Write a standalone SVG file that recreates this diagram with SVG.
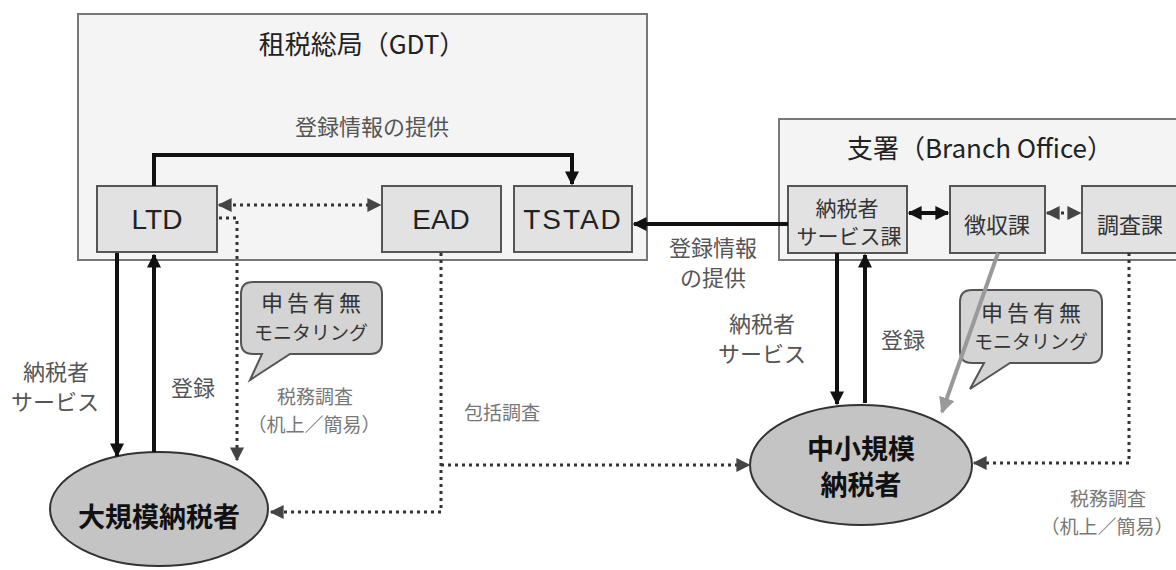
<svg xmlns="http://www.w3.org/2000/svg" width="1176" height="570" viewBox="0 0 1176 570">
<defs>
<style>
.t{font-family:"Noto Sans CJK JP","Liberation Sans",sans-serif;}
.title{font-size:26px;fill:#222;text-anchor:middle;}
.box{fill:#e2e2e2;stroke:#555;stroke-width:2;}
.big{fill:#f4f4f4;stroke:#777;stroke-width:2;}
.nl{font-family:"Liberation Sans",Arial,sans-serif;font-size:28px;fill:#222;text-anchor:middle;}
.ns{font-size:21px;fill:#333;text-anchor:middle;}
.lbl{font-size:22px;fill:#555;text-anchor:middle;}
.lbl2{font-size:19px;fill:#777;text-anchor:middle;}
.solid{fill:none;stroke:#111;stroke-width:4;}
.dot{fill:none;stroke:#333;stroke-width:3;stroke-dasharray:3 4;}
.ell{fill:#c4c4c4;stroke:#333;stroke-width:2;}
.bub{fill:#d4d4d4;stroke:#555;stroke-width:2;}
.bt1{font-size:22px;fill:#333;letter-spacing:4px;}
.bt2{font-size:19px;fill:#333;}
.el{font-size:27px;fill:#111;text-anchor:middle;font-weight:bold;}
</style>
<marker id="ah" viewBox="0 0 10 10" refX="9" refY="5" markerWidth="14" markerHeight="14" markerUnits="userSpaceOnUse" orient="auto-start-reverse"><path d="M0,0 L10,5 L0,10 z" fill="#111"/></marker>
<marker id="ad" viewBox="0 0 10 10" refX="9" refY="5" markerWidth="14" markerHeight="14" markerUnits="userSpaceOnUse" orient="auto-start-reverse"><path d="M0,0 L10,5 L0,10 z" fill="#444"/></marker>
<marker id="ag" viewBox="0 0 10 10" refX="9" refY="5" markerWidth="16" markerHeight="16" markerUnits="userSpaceOnUse" orient="auto"><path d="M0,0 L10,5 L0,10 z" fill="#999"/></marker>
</defs>
<rect width="1176" height="570" fill="#fff"/>

<g id="gdt">
<rect class="big" x="78" y="14" width="569" height="246"/>
<text class="t title" x="362" y="54">租税総局（GDT）</text>
</g>
<g id="branch">
<rect class="big" x="779" y="119" width="400" height="141"/>
<text class="t title" x="980" y="158">支署（Branch Office）</text>
</g>

<g id="ltd"><rect class="box" x="97" y="186" width="120" height="66"/><text class="nl" x="157" y="229">LTD</text></g>
<g id="ead"><rect class="box" x="382" y="186" width="119" height="66"/><text class="nl" x="441" y="229">EAD</text></g>
<g id="tstad"><rect class="box" x="514" y="186" width="118" height="66"/><text class="nl" x="573" y="229" style="letter-spacing:2px">TSTAD</text></g>

<g id="service"><rect class="box" x="788" y="186" width="119" height="67"/><text class="t ns" x="847" y="216">納税者<tspan x="849" dy="28">サービス課</tspan></text></g>
<g id="collection"><rect class="box" x="950" y="186" width="95" height="67"/><text class="t ns" x="997" y="233" style="font-size:22px">徴収課</text></g>
<g id="audit"><rect class="box" x="1082" y="186" width="100" height="67"/><text class="t ns" x="1130" y="233" style="font-size:22px">調査課</text></g>

<g id="large">
<ellipse class="ell" cx="159" cy="509" rx="109" ry="57"/>
<text class="t el" x="159" y="527">大規模納税者</text>
</g>
<g id="sme">
<ellipse class="ell" cx="861" cy="465" rx="111" ry="60"/>
<text class="t el" x="861" y="459">中小規模<tspan x="861" dy="36">納税者</tspan></text>
</g>

<g id="callout-left">
<path class="bub" d="M253,282 H370 Q382,282 382,294 V342 Q382,354 370,354 H290 L250,380 L262,354 H253 Q241,354 241,342 V294 Q241,282 253,282 Z"/>
<text class="t" text-anchor="middle"><tspan class="bt1" x="313" y="311">申告有無</tspan><tspan class="bt2" x="311" y="340">モニタリング</tspan></text>
</g>
<g id="callout-right">
<path class="bub" d="M972,290 H1090 Q1102,290 1102,302 V351 Q1102,363 1090,363 H1010 L970,389 L984,363 H972 Q960,363 960,351 V302 Q960,290 972,290 Z"/>
<text class="t" text-anchor="middle"><tspan class="bt1" x="1033" y="321">申告有無</tspan><tspan class="bt2" x="1031" y="349">モニタリング</tspan></text>
</g>

<g id="connectors">
<path class="solid" d="M154,186 V155 H572 V184" marker-end="url(#ah)"/>
<path class="solid" d="M788,224 H634" marker-end="url(#ah)"/>
<path class="solid" d="M909,213 H948" marker-start="url(#ah)" marker-end="url(#ah)"/>
<path class="dot" d="M1047,213 H1080" marker-start="url(#ad)" marker-end="url(#ad)"/>
<path class="dot" d="M219,205 H380" marker-start="url(#ad)" marker-end="url(#ad)"/>
<path class="dot" d="M219,218 H237 V460" marker-end="url(#ad)"/>
<path class="solid" d="M117,253 V456" marker-end="url(#ah)"/>
<path class="solid" d="M154,452 V255" marker-end="url(#ah)"/>
<path class="dot" d="M441,253 V512 H271" marker-end="url(#ad)"/>
<path class="dot" d="M441,465 H749" marker-end="url(#ad)"/>
<path class="solid" d="M837,253 V404" marker-end="url(#ah)"/>
<path class="solid" d="M865,403 V255" marker-end="url(#ah)"/>
<path d="M998,253 L942,412" fill="none" stroke="#999" stroke-width="4" marker-end="url(#ag)"/>
<path class="dot" d="M1129,253 V463 H974" marker-end="url(#ad)"/>
</g>

<g id="labels">
<text class="t lbl" x="372" y="135">登録情報の提供</text>
<text class="t lbl" x="713" y="256">登録情報<tspan x="713" dy="30">の提供</tspan></text>
<text class="t lbl" x="56" y="380">納税者<tspan x="55" dy="30">サービス</tspan></text>
<text class="t lbl" x="193" y="396">登録</text>
<text class="t lbl2" x="315" y="404">税務調査<tspan x="314" dy="28">（机上／簡易）</tspan></text>
<text class="t lbl2" x="502" y="420">包括調査</text>
<text class="t lbl" x="762" y="332">納税者<tspan x="762" dy="30">サービス</tspan></text>
<text class="t lbl" x="903" y="348">登録</text>
<text class="t lbl2" x="1108" y="506">税務調査<tspan x="1107" dy="28">（机上／簡易）</tspan></text>
</g>
</svg>
